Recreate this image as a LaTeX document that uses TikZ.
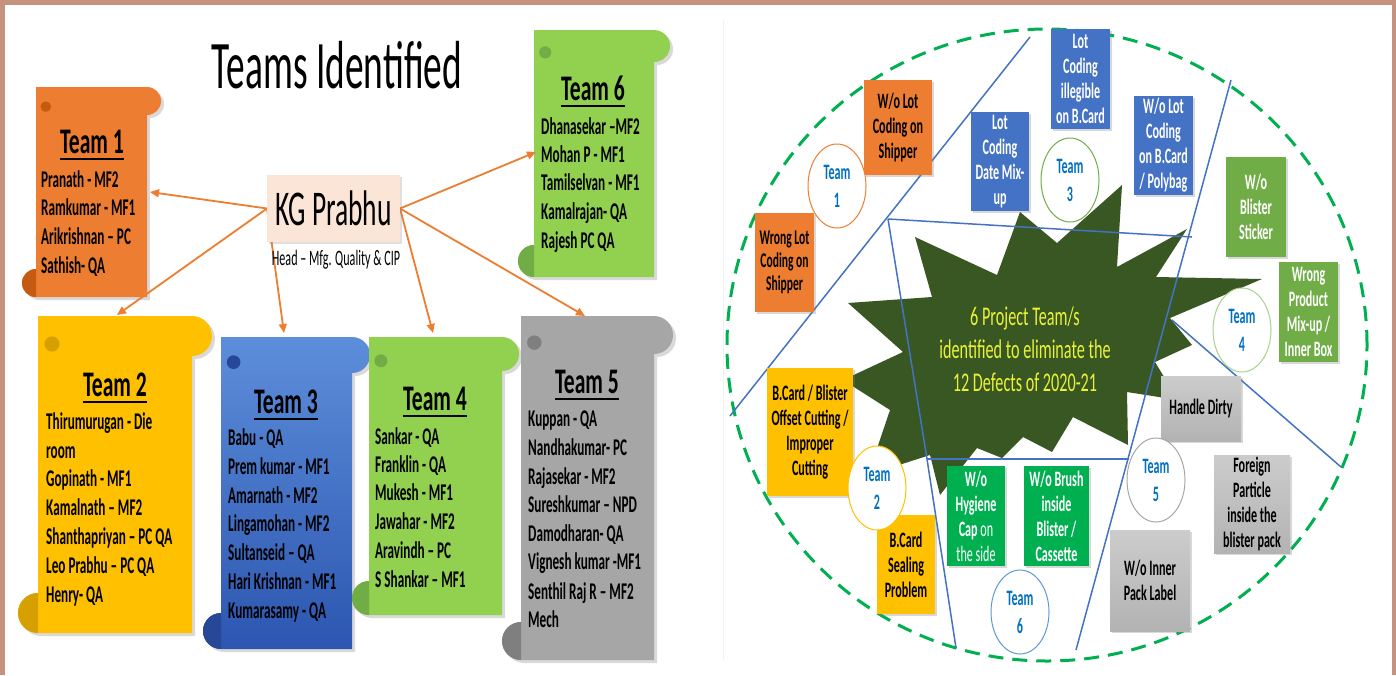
\documentclass[tikz,border=0pt]{standalone}
\usepackage{fontspec}
\newfontfamily\cf[FakeStretch=0.55]{Carlito}
\newfontfamily\cfh[FakeStretch=0.6]{Carlito}
\usetikzlibrary{arrows.meta,shadows,shapes.geometric}
\definecolor{frame}{RGB}{196,146,126}
\definecolor{tOrange}{RGB}{237,125,49}
\definecolor{tOrangeD}{RGB}{197,90,17}
\definecolor{tYellow}{RGB}{255,192,0}
\definecolor{tYellowD}{RGB}{214,160,0}
\definecolor{tBlueL}{RGB}{93,142,218}
\definecolor{tBlueD}{RGB}{44,86,176}
\definecolor{tBlueDD}{RGB}{38,72,150}
\definecolor{tGreen}{RGB}{146,208,80}
\definecolor{tGreenD}{RGB}{112,173,71}
\definecolor{tGray}{RGB}{166,166,166}
\definecolor{tGrayD}{RGB}{127,127,127}
\definecolor{kgfill}{RGB}{251,229,214}
\definecolor{arr}{RGB}{237,125,49}
\definecolor{starg}{RGB}{56,87,35}
\definecolor{stxt}{RGB}{235,243,55}
\definecolor{lblue}{RGB}{68,114,196}
\definecolor{cblue}{RGB}{0,112,192}
\definecolor{dgreen}{RGB}{0,176,80}
\definecolor{bgreen}{RGB}{112,173,71}
\definecolor{lgreen}{RGB}{169,209,142}
\definecolor{cbl}{RGB}{91,155,213}
\newcommand\nmfont{\cf\bfseries\fontsize{24}{26}\selectfont}
\newcommand\hdfont{\cfh\bfseries\fontsize{36}{38}\selectfont}
\newcommand\bxfont{\cf\bfseries\fontsize{22}{25}\selectfont}
\newcommand\tcfont{\cf\bfseries\fontsize{22}{28}\selectfont}
% scroll: x0 y0 x1 y1 r fillopts dark
\newcommand\scrollbox[7]{%
  \begin{scope}[shift={(3,3)}]
    \fill[black,opacity=0.15] (#1+#5,#2) -- (#3-#5,#2) arc[start angle=90,end angle=-90,radius=#5pt] -- (#3-#5,#4) -- (#1+#5,#4) arc[start angle=-90,end angle=-270,radius=#5pt] -- cycle;
  \end{scope}
  \path[#6] (#1+#5,#2) -- (#3-#5,#2) arc[start angle=90,end angle=-90,radius=#5pt] -- (#3-#5,#4) -- (#1+#5,#4) arc[start angle=-90,end angle=-270,radius=#5pt] -- cycle;
  \fill[#7] (#1+#5,#4) arc[start angle=-90,end angle=-270,radius=#5pt] -- cycle;
  \fill[#7] (#1+1.7*#5,#2+1.4*#5) circle[radius={0.38*#5pt}];
}
\newcommand\namelist[3]{\foreach \yy/\nmtxt [count=\i] in {#3} {\node[nm, anchor=base west] (#1n\i) at (#2,\yy) {\nmtxt};}}
\newcommand\heading[3]{\node[hd, anchor=base] (#1) at (#2) {#3};
  \draw[line width=2.2pt] ([yshift=-6pt]#1.base west) -- ([yshift=-6pt]#1.base east);}
\tikzset{
  nm/.style={inner sep=0pt, font=\nmfont},
  hd/.style={inner sep=0pt, font=\hdfont},
  arrowline/.style={draw=arr, line width=1.8pt, -{Triangle[length=9pt,width=8pt]}},
  rbox/.style={rectangle, inner sep=0pt, align=center, font=\bxfont,
    drop shadow={shadow xshift=2pt, shadow yshift=-2pt, opacity=0.3}},
  tcirc/.style={ellipse, draw=#1, line width=1pt, fill=white, minimum width=58pt,
    minimum height=84pt, inner sep=0pt, align=center, font=\tcfont, text=cblue},
  bline/.style={draw=lblue, line width=1.5pt},
}
\begin{document}
\begin{tikzpicture}[x=1pt,y=-1pt]
\useasboundingbox (0,0) rectangle (1396,675);
\fill[white] (0,0) rectangle (1396,675);
\fill[frame] (0,0) rectangle (1396,4.5);
\fill[frame] (0,0) rectangle (5,675);
\fill[frame] (1391.5,0) rectangle (1396,675);
\draw[gray!10, line width=0.8pt] (723,20) -- (723,660);

% ---------------- left panel ----------------
\node[font=\cf\fontsize{68}{72}\selectfont, anchor=base, inner sep=0pt] (title) at (337,88) {Teams Identified};

\scrollbox{22}{87}{161}{297}{14}{fill=tOrange}{tOrangeD}
\scrollbox{518}{30}{670}{277}{16}{fill=tGreen}{tGreenD}
\scrollbox{18}{316}{212}{633}{20}{fill=tYellow}{tYellowD}
\scrollbox{203}{337}{370}{649}{18}{top color=tBlueL,bottom color=tBlueD}{tBlueDD}
\scrollbox{352}{337}{519}{615}{17}{fill=tGreen}{tGreenD}
\scrollbox{502}{316}{673}{660}{19}{fill=tGray}{tGrayD}

\heading{h1}{92,153}{Team 1}
\namelist{t1}{41}{187/{Pranath - MF2},215/{Ramkumar - MF1},244/{Arikrishnan – PC},273/{Sathish- QA}}
\heading{h6}{593,100}{Team 6}
\namelist{t6}{541}{134/{Dhanasekar –MF2},162/{Mohan P - MF1},190/{Tamilselvan - MF1},219/{Kamalrajan- QA},248/{Rajesh PC QA}}
\heading{h2}{115,396}{Team 2}
\namelist{t2}{46}{429/{Thirumurugan - Die},458/{room},486/{Gopinath - MF1},515/{Kamalnath – MF2},544/{Shanthapriyan – PC QA},573/{Leo Prabhu – PC QA},602/{Henry- QA}}
\heading{h3}{286,413}{Team 3}
\namelist{t3}{228}{445/{Babu - QA},474/{Prem kumar - MF1},503/{Amarnath - MF2},531/{Lingamohan - MF2},560/{Sultanseid – QA},589/{Hari Krishnan - MF1},618/{Kumarasamy - QA}}
\heading{h4}{435,410}{Team 4}
\namelist{t4}{375}{444/{Sankar - QA},472/{Franklin - QA},500/{Mukesh - MF1},529/{Jawahar - MF2},558/{Aravindh – PC},587/{S Shankar – MF1}}
\heading{h5}{587,393}{Team 5}
\namelist{t5}{528}{426/{Kuppan - QA},455/{Nandhakumar- PC},484/{Rajasekar - MF2},512/{Sureshkumar – NPD},541/{Damodharan- QA},569/{Vignesh kumar -MF1},599/{Senthil Raj R – MF2},627/{Mech}}

\coordinate (a1) at (150,192);
\coordinate (a2) at (117,315);
\coordinate (a3) at (284,333);
\coordinate (a4) at (433,333);
\coordinate (a5) at (585,316);
\coordinate (a6) at (536,152);
\coordinate (kw) at (267,208.5);
\coordinate (ke) at (400,208.5);
\draw[arrowline] (kw) -- (a1);
\draw[arrowline] (kw) -- (a2);
\draw[arrowline] (kw) -- (a3);
\draw[arrowline] (ke) -- (a4);
\draw[arrowline] (ke) -- (a5);
\draw[arrowline] (ke) -- (a6);
\node[fill=kgfill, minimum width=133pt, minimum height=67pt, inner sep=0pt,
  font=\cf\fontsize{50}{52}\selectfont,
  drop shadow={shadow xshift=1.5pt, shadow yshift=-2pt, opacity=0.25}] (kg) at (333.5,208.5) {KG Prabhu};
\node[font=\cf\fontsize{22}{24}\selectfont, inner sep=0pt] (kgsub) at (336,260) {Head – Mfg. Quality \& CIP};

% ---------------- right panel ----------------
\draw[dgreen, line width=3pt, dash pattern=on 15pt off 9pt] (1047,345) ellipse [x radius=320pt, y radius=316pt];

\fill[starg] (915,237) -- (997,275) -- (1020,212) -- (1057,243) -- (1122,185) -- (1117,267)
  -- (1187,229) -- (1156,277) -- (1262,279) -- (1170,318) -- (1192,345) -- (1155,362)
  -- (1178,400) -- (1127,392) -- (1128,445) -- (1073,417) -- (1052,452) -- (1023,437)
  -- (1002,458) -- (977,448) -- (940,495) -- (930,455) -- (868,475) -- (890,410)
  -- (843,380) -- (903,352) -- (848,303) -- (932,297) -- cycle;
\node[font=\cfh\fontsize{27}{33}\selectfont, text=stxt, align=center, inner sep=0pt] (startxt) at (1025,349)
  {6 Project Team/s\\identified to eliminate the\\12 Defects of 2020-21};

\coordinate (lA1) at (1030,37);  \coordinate (lA2) at (730,416);
\coordinate (lB1) at (888,219);  \coordinate (lB2) at (1192,237);
\coordinate (lC2) at (927,459);  \coordinate (lC3) at (956,648);
\coordinate (lD2) at (1129,459);
\coordinate (lE1) at (1231,80);  \coordinate (lE2) at (1076,650);
\coordinate (lF1) at (1172,320); \coordinate (lF2) at (1341,467);
\draw[bline] (lA1) -- (lA2);
\draw[bline] (lB1) -- (lB2);
\draw[bline] (lB1) -- (lC2) -- (lC3);
\draw[bline] (lC2) -- (lD2);
\draw[bline] (lE1) -- (lE2);
\draw[bline] (lF1) -- (lF2);

\node[rbox, fill=tOrange, minimum width=68pt, minimum height=95pt] (b1) at (898,127.5) {W/o Lot\\Coding on\\Shipper};
\node[rbox, fill=tOrange, minimum width=59pt, minimum height=99pt, font=\cf\bfseries\fontsize{21}{23}\selectfont] (b2) at (784.5,262.5) {Wrong Lot\\Coding on\\Shipper};
\node[rbox, fill=lblue, text=white, minimum width=58pt, minimum height=99pt] (b3) at (1000,161.5) {Lot\\Coding\\Date Mix-\\up};
\node[rbox, fill=lblue, text=white, minimum width=59pt, minimum height=100pt] (b4) at (1080.5,79) {Lot\\Coding\\illegible\\on B.Card};
\node[rbox, fill=lblue, text=white, minimum width=59pt, minimum height=99pt] (b5) at (1163.5,145.5) {W/o Lot\\Coding\\on B.Card\\/ Polybag};
\node[rbox, fill=bgreen, text=white, minimum width=60pt, minimum height=100pt] (b6) at (1256,207) {W/o\\Blister\\Sticker};
\node[rbox, fill=bgreen, text=white, minimum width=59pt, minimum height=100pt] (b7) at (1308.5,312) {Wrong\\Product\\Mix-up /\\Inner Box};
\node[rbox, fill=tYellow, minimum width=86pt, minimum height=128pt] (b8) at (810,432) {B.Card / Blister\\Offset Cutting /\\Improper\\Cutting};
\node[rbox, fill=tYellow, minimum width=58pt, minimum height=99pt] (b9) at (906,564.5) {B.Card\\Sealing\\Problem};
\node[rbox, fill=dgreen, text=white, minimum width=58pt, minimum height=100pt] (b10) at (976,516) {W/o\\Hygiene\\Cap {\mdseries on}\\{\mdseries the side}};
\node[rbox, fill=dgreen, text=white, minimum width=65pt, minimum height=100pt] (b11) at (1056.5,516) {W/o Brush\\inside\\Blister /\\Cassette};
\node[rbox, top color=gray!40, bottom color=gray!60, minimum width=80pt, minimum height=65pt] (b12) at (1201,408.5) {Handle Dirty};
\node[rbox, top color=gray!40, bottom color=gray!60, minimum width=76pt, minimum height=98pt] (b13) at (1252,504) {Foreign\\Particle\\inside the\\blister pack};
\node[rbox, top color=gray!40, bottom color=gray!60, minimum width=80pt, minimum height=101pt] (b14) at (1150,580.5) {W/o Inner\\Pack Label};

\node[tcirc=tOrange] (c1) at (837,186) {Team\\1};
\node[tcirc=tYellow] (c2) at (877,488) {Team\\2};
\node[tcirc=bgreen] (c3) at (1070,180) {Team\\3};
\node[tcirc=lgreen] (c4) at (1242,330) {Team\\4};
\node[tcirc=tGray] (c5) at (1156,480) {Team\\5};
\node[tcirc=cbl] (c6) at (1020,612) {Team\\6};
\end{tikzpicture}
\end{document}
